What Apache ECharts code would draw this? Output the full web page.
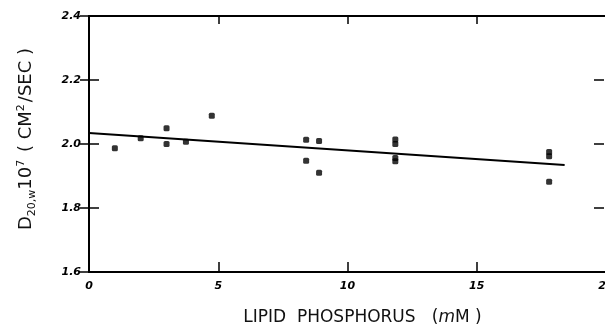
<!DOCTYPE html>
<html>
<head>
<meta charset="utf-8">
<script src="https://cdn.jsdelivr.net/npm/echarts@6/dist/echarts.min.js"></script>
<style>
  html, body { margin: 0; padding: 0; background: #fff; }
  #chart { width: 605px; height: 328px; }
</style>
</head>
<body>
<div id="chart"></div>
<script>
// measured points: lipid phosphorus (mM) vs D20,w x 10^7
var lipidP = [1.0, 2.0, 3.0, 3.0, 3.75, 4.75, 8.4, 8.4, 8.9, 8.9, 11.85, 11.85, 11.85, 11.85, 17.8, 17.8, 17.8];
var diffCoef = [1.987, 2.018, 2.049, 2.0, 2.007, 2.088, 2.013, 1.948, 2.009, 1.91, 2.014, 2.0, 1.956, 1.946, 1.975, 1.962, 1.882];

// fitted line end points
var fitX = [0, 18.4];
var fitY = [2.034, 1.934];

var xTicks = [0, 5, 10, 15, 20];

var chart = echarts.init(document.getElementById('chart'));

var tickFont = {
    color: '#000',
    fontFamily: 'DejaVu Sans',
    fontStyle: 'italic',
    fontWeight: 'bold',
    fontSize: 11
};

var gridBox = { left: 89, top: 16, width: 517, height: 256, outerBoundsMode: 'none', containLabel: false };
var tickLine = { color: '#000', width: 1.5 };

chart.setOption({
    animation: false,
    grid: [gridBox, Object.assign({}, gridBox), Object.assign({}, gridBox)],
    xAxis: [{
        type: 'value',
        min: 0, max: 20, interval: 5,
        position: 'bottom',
        splitLine: { show: false },
        axisLine: { lineStyle: { color: '#000', width: 2 } },
        axisTick: { inside: true, length: 10, lineStyle: tickLine },
        axisLabel: Object.assign({ margin: 9, formatter: function (v) { return xTicks.indexOf(v) >= 0 ? String(v) : ''; } }, tickFont),
        name: '{t|LIPID  PHOSPHORUS   (}{m|m}{t|M )}',
        nameLocation: 'middle',
        nameGap: 37,
        nameTextStyle: {
            padding: [0, 0, 0, 30],
            rich: {
                t: { fontFamily: 'DejaVu Sans', fontSize: 17, color: '#111' },
                m: { fontFamily: 'DejaVu Sans', fontStyle: 'italic', fontSize: 17, color: '#111' }
            }
        }
    }, {
        gridIndex: 1,
        type: 'value',
        min: 0, max: 20, interval: 5,
        position: 'top',
        splitLine: { show: false },
        axisLine: { lineStyle: { color: '#000', width: 2 } },
        axisTick: { inside: true, length: 8, lineStyle: tickLine },
        axisLabel: { show: false }
    }, {
        gridIndex: 2,
        type: 'value',
        min: 0, max: 20,
        show: false
    }],
    yAxis: [{
        type: 'value',
        min: 1.6, max: 2.4, interval: 0.2,
        position: 'left',
        splitLine: { show: false },
        axisLine: { lineStyle: { color: '#000', width: 2 } },
        axisTick: { inside: true, length: 10, lineStyle: tickLine },
        axisLabel: Object.assign({ margin: 8, formatter: function (v) { return v.toFixed(1); } }, tickFont),
        name: '{t|D}{s|20,w}{t|10}{p|7}{t| ( CM}{p|2}{t|/SEC )}',
        nameLocation: 'middle',
        nameRotate: 90,
        nameGap: 54,
        nameTextStyle: {
            padding: [0, 0, 0, 10],
            rich: {
                t: { fontFamily: 'DejaVu Sans', fontSize: 18, color: '#111', verticalAlign: 'bottom' },
                s: { fontFamily: 'DejaVu Sans', fontSize: 11, color: '#111', verticalAlign: 'bottom', padding: [0, 0, -3, 0] },
                p: { fontFamily: 'DejaVu Sans', fontSize: 11, color: '#111', verticalAlign: 'top', padding: [0, 2, 8, 0] }
            }
        }
    }, {
        gridIndex: 1,
        type: 'value',
        min: 1.6, max: 2.4, interval: 0.2,
        position: 'right',
        offset: -1,
        splitLine: { show: false },
        axisLine: { show: false },
        axisTick: { show: true, inside: true, length: 10, lineStyle: tickLine },
        axisLabel: { show: false }
    }, {
        // right-hand ticks near the canvas edge
        gridIndex: 2,
        type: 'value',
        min: 1.6, max: 2.4, interval: 0.2,
        position: 'left',
        offset: -515,
        splitLine: { show: false },
        axisLine: { show: false },
        axisTick: { show: true, inside: false, length: 10, lineStyle: tickLine },
        axisLabel: { show: false }
    }],
    series: [{
        type: 'scatter',
        data: lipidP.map(function (x, i) { return [x, diffCoef[i]]; }),
        symbol: 'roundRect',
        symbolSize: 6,
        itemStyle: { color: '#000' }
    }, {
        type: 'line',
        data: fitX.map(function (x, i) { return [x, fitY[i]]; }),
        symbol: 'none',
        lineStyle: { color: '#000', width: 2 }
    }]
});
</script>
</body>
</html>
